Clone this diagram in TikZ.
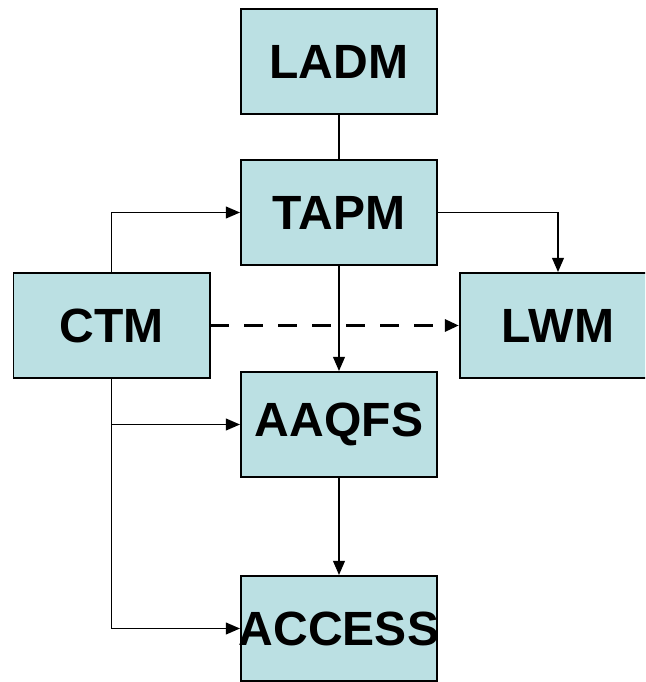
\documentclass[tikz,border=0pt]{standalone}
\usepackage{fontspec}
\setmainfont{Liberation Sans}
\usetikzlibrary{arrows.meta, positioning}
\definecolor{boxteal}{HTML}{BBE0E3}

\tikzset{
  model/.style={draw=black, line width=1.7pt, fill=boxteal, minimum width=5.88cm, minimum height=3.15cm,
    inner sep=0pt, font=\fontsize{41}{41}\selectfont\bfseries},
  link/.style={line width=1.4pt, -{Triangle[length=12pt,width=10pt]}},
  weaklink/.style={line width=3.4pt, dash pattern=on 16pt off 13pt, -{Triangle[length=12pt,width=10pt]}}
}

\begin{document}
\begin{tikzpicture}[x=0.03cm, y=-0.03cm]
  % Page frame
  \useasboundingbox (0,0) rectangle (645,682);
  \clip (0,0) rectangle (645,682);
  \fill[white] (0,0) rectangle (645,682);

  % Model boxes
  \node[model] (ladm) at (339, 61.5) {LADM};
  \node[model] (tapm) at (339, 212.5) {TAPM};
  \node[model] (ctm) at (111.5, 325.5) {CTM};
  \node[model] (lwm) at (558, 325.5) {LWM};
  \node[model] (aaqfs) at (339, 424.5) {AAQFS};
  % text is as wide as the box here, keep the box size fixed
  \node[model] (access) at (339, 628.5) {\makebox[0pt]{ACCESS}};

  % Couplings
  \draw[line width=1.4pt] (ladm) -- (tapm);
  \draw[link] (ctm.north) |- (tapm.west);
  \draw[link] (tapm.east) -| (lwm.north);
  \draw[weaklink] (ctm) -- (lwm);
  \draw[link] (tapm) -- (aaqfs);
  \draw[link] (ctm.south) |- (aaqfs.west);
  \draw[link] (ctm.south) |- (access.west);
  \draw[link] (aaqfs) -- (access);
\end{tikzpicture}
\end{document}
